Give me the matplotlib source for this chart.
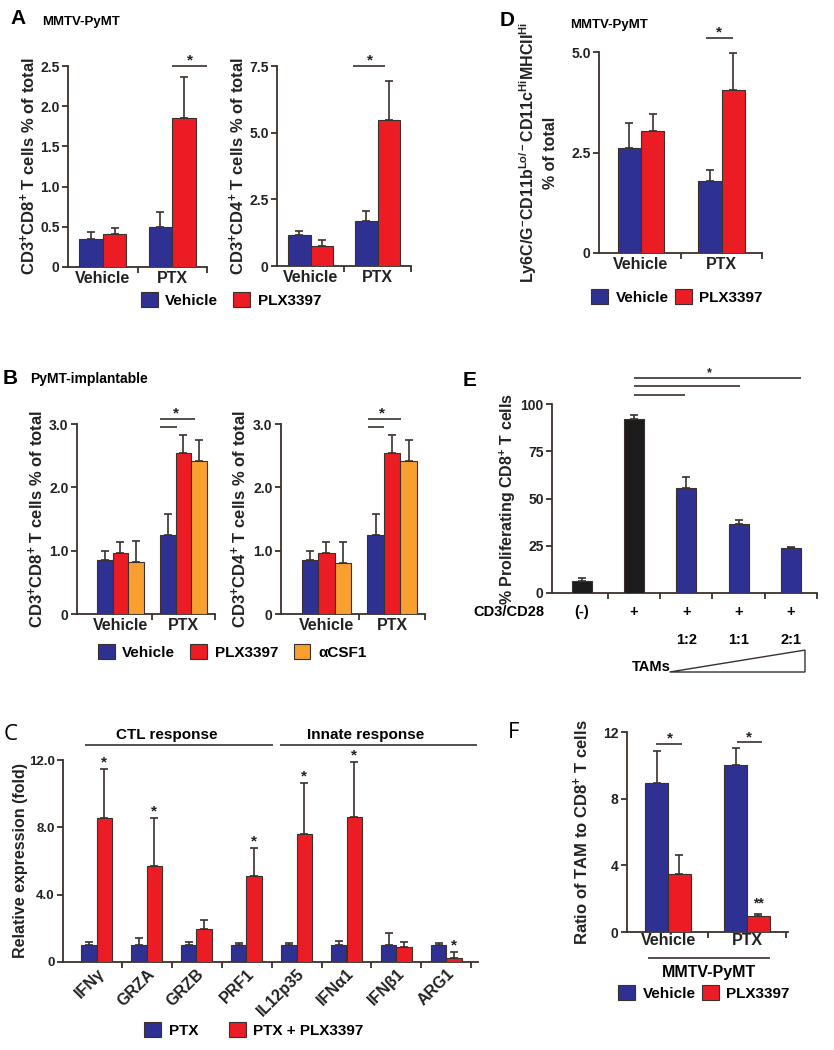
import numpy as np
import matplotlib
matplotlib.use('Agg')
import matplotlib.pyplot as plt
from matplotlib.patches import Patch, Polygon

plt.rcParams['font.family'] = ['Liberation Sans', 'DejaVu Sans']
plt.rcParams['font.weight'] = 'bold'
plt.rcParams['axes.labelweight'] = 'bold'
plt.rcParams['mathtext.fontset'] = 'custom'
plt.rcParams['mathtext.rm'] = 'Liberation Sans:bold'
plt.rcParams['mathtext.it'] = 'Liberation Sans:bold'
plt.rcParams['mathtext.bf'] = 'Liberation Sans:bold'
plt.rcParams['mathtext.default'] = 'rm'

W, H = 834, 1050
BLUE = '#2e3192'
RED = '#ec1c24'
ORANGE = '#f7a030'
BLACK = '#1c1c1c'
EDGE = '#3a302c'

# ---- data ----
groups = ['Vehicle', 'PTX']

# A: MMTV-PyMT
a_cd8_veh = [0.35, 0.50]
a_cd8_veh_err = [0.09, 0.19]
a_cd8_plx = [0.41, 1.85]
a_cd8_plx_err = [0.07, 0.51]
a_cd4_veh = [1.15, 1.68]
a_cd4_veh_err = [0.15, 0.39]
a_cd4_plx = [0.75, 5.49]
a_cd4_plx_err = [0.21, 1.44]

# B: PyMT-implantable
b_cd8_veh = [0.85, 1.25]
b_cd8_veh_err = [0.14, 0.33]
b_cd8_plx = [0.96, 2.55]
b_cd8_plx_err = [0.18, 0.28]
b_cd8_csf = [0.82, 2.42]
b_cd8_csf_err = [0.33, 0.32]
b_cd4_veh = [0.85, 1.25]
b_cd4_veh_err = [0.14, 0.33]
b_cd4_plx = [0.96, 2.55]
b_cd4_plx_err = [0.18, 0.28]
b_cd4_csf = [0.80, 2.41]
b_cd4_csf_err = [0.34, 0.33]

# C: relative expression
c_genes = ['IFNγ', 'GRZA', 'GRZB', 'PRF1', 'IL12p35', 'IFNα1', 'IFNβ1', 'ARG1']
c_ptx = [1.0, 1.0, 1.0, 1.0, 1.0, 1.0, 1.0, 1.0]
c_ptx_err = [0.2, 0.4, 0.2, 0.15, 0.12, 0.25, 0.75, 0.15]
c_plx = [8.57, 5.71, 1.94, 5.10, 7.60, 8.63, 0.89, 0.24]
c_plx_err = [2.88, 2.82, 0.58, 1.70, 3.05, 3.24, 0.30, 0.36]
c_stars = [True, True, False, True, True, True, False, True]

# D: Ly6C/G- CD11b lo CD11c hi MHCII hi
d_veh = [2.60, 1.80]
d_veh_err = [0.63, 0.27]
d_plx = [3.03, 4.05]
d_plx_err = [0.43, 0.92]

# E: proliferation
e_values = [6.5, 92.1, 55.8, 36.6, 23.8]
e_err = [1.4, 2.1, 5.8, 2.1, 0.8]
e_colors = [BLACK, BLACK, BLUE, BLUE, BLUE]
e_cd3 = ['(-)', '+', '+', '+', '+']
e_ratio = ['', '', '1:2', '1:1', '2:1']

# F: ratio TAM to CD8
f_veh = [8.96, 10.04]
f_veh_err = [1.88, 1.00]
f_plx = [3.50, 0.96]
f_plx_err = [1.14, 0.14]

fig = plt.figure(figsize=(W / 100, H / 100), dpi=100)


def add_ax(left, top, right, bottom, xlim, ylim, yticks, ylabels, ysize=10):
    ax = fig.add_axes([left / W, 1 - bottom / H, (right - left) / W, (bottom - top) / H])
    ax.set_xlim(xlim)
    ax.set_ylim(ylim)
    ax.set_yticks(yticks)
    ax.set_yticklabels(ylabels, fontweight='bold', fontsize=ysize)
    for s in ['top', 'right']:
        ax.spines[s].set_visible(False)
    for s in ['left', 'bottom']:
        ax.spines[s].set_color(EDGE)
        ax.spines[s].set_linewidth(1.3)
    ax.tick_params(axis='both', which='both', colors=EDGE, labelcolor='#222222', width=1.3)
    ax.tick_params(axis='y', length=4, pad=2)
    ax.tick_params(axis='x', which='major', length=0, pad=3)
    ax.tick_params(axis='x', which='minor', length=4)
    ax.patch.set_alpha(0)
    return ax


def xcats(ax, labels):
    n = len(labels)
    ax.set_xticks(np.arange(n))
    ax.set_xticklabels(labels, fontweight='bold', fontsize=11.5)
    ax.set_xticks(np.arange(n) + 0.5, minor=True)


def grouped(ax, series, width):
    n = len(series)
    for k, (vals, errs, color) in enumerate(series):
        x = np.arange(len(vals)) + (k - (n - 1) / 2) * width
        ax.bar(x, vals, width, color=color, edgecolor=EDGE, linewidth=0.8, zorder=3)
        ax.errorbar(x, vals, yerr=[np.zeros(len(vals)), errs], fmt='none', ecolor=EDGE,
                    elinewidth=1.2, capsize=3, capthick=1.2, zorder=2)


def hline(ax, x0, x1, y):
    ax.plot([x0, x1], [y, y], color=EDGE, lw=1.2, clip_on=False, solid_capstyle='butt')


def star(ax, x, y, s='*', size=11):
    ax.text(x, y, s, ha='center', va='baseline', fontsize=size, color='#222222', clip_on=False)


def ylab(ax, text, right_px, size=12, **kw):
    pos = ax.get_position()
    ax.set_ylabel(text, fontsize=size, color='#222222', fontweight='bold', **kw)
    ax.yaxis.set_label_coords((right_px / W - pos.x0) / pos.width, 0.5)


def ftext(x, y, s, **kw):
    fig.text(x / W, 1 - y / H, s, **kw)


def legend(items, cx, cy, spacing=1.0):
    handles = [Patch(facecolor=c, edgecolor=EDGE, linewidth=0.8) for c, _ in items]
    fig.legend(handles, [l for _, l in items], loc='center', bbox_to_anchor=(cx / W, 1 - cy / H),
               ncol=len(items), frameon=False, fontsize=11, handlelength=1.1, handleheight=1.1,
               handletextpad=0.5, columnspacing=spacing, borderpad=0)


# ---- A ----
ftext(10, 18, 'A', fontsize=15, va='center', ha='left')
ftext(42, 22, 'MMTV-PyMT', fontsize=9.5, va='center', ha='left')
axA1 = add_ax(68, 66, 207, 267, (-0.5, 1.5), (0, 2.5), [0, 0.5, 1, 1.5, 2, 2.5],
              ['0', '0.5', '1.0', '1.5', '2.0', '2.5'])
grouped(axA1, [(a_cd8_veh, a_cd8_veh_err, BLUE), (a_cd8_plx, a_cd8_plx_err, RED)], 0.34)
xcats(axA1, groups)
hline(axA1, 1.0, 1.5, 2.5)
star(axA1, 1.25, 2.52)
ylab(axA1, r'CD3$^{+}$CD8$^{+}$ T cells % of total', 38)

axA2 = add_ax(277, 66, 411, 266, (-0.5, 1.5), (0, 7.5), [0, 2.5, 5, 7.5], ['0', '2.5', '5.0', '7.5'])
grouped(axA2, [(a_cd4_veh, a_cd4_veh_err, BLUE), (a_cd4_plx, a_cd4_plx_err, RED)], 0.34)
xcats(axA2, groups)
hline(axA2, 0.63, 1.11, 7.5)
star(axA2, 0.89, 7.56)
ylab(axA2, r'CD3$^{+}$CD4$^{+}$ T cells % of total', 247)

legend([(BLUE, 'Vehicle'), (RED, 'PLX3397')], 231, 300)

# ---- B ----
ftext(3, 379, 'B', fontsize=15, va='center', ha='left')
ftext(30, 379, 'PyMT-implantable', fontsize=10, va='center', ha='left')
axB1 = add_ax(77, 424, 215, 614, (-0.69, 1.37), (0, 3), [0, 1, 2, 3], ['0', '1.0', '2.0', '3.0'])
grouped(axB1, [(b_cd8_veh, b_cd8_veh_err, BLUE), (b_cd8_plx, b_cd8_plx_err, RED),
               (b_cd8_csf, b_cd8_csf_err, ORANGE)], 0.25)
xcats(axB1, groups)
hline(axB1, 0.63, 1.18, 3.08)
hline(axB1, 0.63, 0.90, 2.95)
star(axB1, 0.88, 3.1)
ylab(axB1, r'CD3$^{+}$CD8$^{+}$ T cells % of total', 46)

axB2 = add_ax(281, 424, 425, 614, (-0.69, 1.43), (0, 3), [0, 1, 2, 3], ['0', '1.0', '2.0', '3.0'])
grouped(axB2, [(b_cd4_veh, b_cd4_veh_err, BLUE), (b_cd4_plx, b_cd4_plx_err, RED),
               (b_cd4_csf, b_cd4_csf_err, ORANGE)], 0.25)
xcats(axB2, groups)
hline(axB2, 0.63, 1.13, 3.08)
hline(axB2, 0.63, 0.87, 2.95)
star(axB2, 0.85, 3.1)
ylab(axB2, r'CD3$^{+}$CD4$^{+}$ T cells % of total', 249)

legend([(BLUE, 'Vehicle'), (RED, 'PLX3397'), (ORANGE, 'αCSF1')], 232, 652, spacing=1.0)

# ---- C ----
ftext(4, 735, 'C', fontsize=16, va='center', ha='left', fontweight='normal', family='Open Sans')
axC = add_ax(63, 760, 478, 962, (-0.67, 7.63), (0, 12), [0, 4, 8, 12], ['0', '4.0', '8.0', '12.0'],
             ysize=9.5)
grouped(axC, [(c_ptx, c_ptx_err, BLUE), (c_plx, c_plx_err, RED)], 0.31)
axC.set_xticks(np.arange(len(c_genes)))
axC.set_xticklabels(c_genes, rotation=45, ha='right', rotation_mode='anchor', fontsize=11.5,
                    fontweight='bold')
axC.set_xticks(np.arange(len(c_genes)) + 0.5, minor=True)
for i, s in enumerate(c_stars):
    if s:
        star(axC, i + 0.155, c_plx[i] + c_plx_err[i] + 0.15)
hline(axC, -0.24, 3.52, 12.9)
hline(axC, 3.66, 7.62, 12.9)
axC.text(1.4, 13.25, 'CTL response', ha='center', va='baseline', fontsize=11, clip_on=False)
axC.text(5.38, 13.25, 'Innate response', ha='center', va='baseline', fontsize=11, clip_on=False)
ylab(axC, 'Relative expression (fold)', 28, size=11.5)

legend([(BLUE, 'PTX'), (RED, 'PTX + PLX3397')], 254, 1030, spacing=2.0)

# ---- D ----
ftext(500, 21, 'D', fontsize=15, va='center', ha='left')
ftext(570, 25, 'MMTV-PyMT', fontsize=9.5, va='center', ha='left')
axD = add_ax(599, 52, 762, 253, (-0.52, 1.49), (0, 5), [0, 2.5, 5], ['0', '2.5', '5.0'])
grouped(axD, [(d_veh, d_veh_err, BLUE), (d_plx, d_plx_err, RED)], 0.29)
xcats(axD, groups)
hline(axD, 0.80, 1.14, 5.35)
star(axD, 0.97, 5.38)
ylab(axD, 'Ly6C/G$^{-}$CD11b$^{Lo/-}$CD11c$^{Hi}$MHCII$^{Hi}$\n% of total', 558, size=11.5,
     linespacing=1.3)

legend([(BLUE, 'Vehicle'), (RED, 'PLX3397')], 677, 297, spacing=0.4)

# ---- E ----
ftext(463, 381, 'E', fontsize=15, va='center', ha='left')
axE = add_ax(552, 404, 817, 593, (-0.57, 4.5), (0, 100), [0, 25, 50, 75, 100],
             ['0', '25', '50', '75', '100'])
xE = np.arange(len(e_values))
axE.bar(xE, e_values, 0.38, color=e_colors, edgecolor=EDGE, linewidth=0.8, zorder=3)
axE.errorbar(xE, e_values, yerr=[np.zeros(len(e_values)), e_err], fmt='none', ecolor=EDGE,
             elinewidth=1.2, capsize=3, capthick=1.2, zorder=2)
axE.set_xticks([])
axE.set_xticks(xE + 0.5, minor=True)
hline(axE, 1.0, 4.2, 114)
hline(axE, 1.0, 3.02, 109.5)
hline(axE, 1.0, 1.97, 105)
star(axE, 2.45, 114.5, size=9)
axE.text(-0.71, -10, 'CD3/CD28', ha='right', va='center', fontsize=10.5, clip_on=False)
for i in xE:
    axE.text(i, -10, e_cd3[i], ha='center', va='center', fontsize=10.5, clip_on=False)
    axE.text(i, -25, e_ratio[i], ha='center', va='center', fontsize=10.5, clip_on=False)
axE.text(1.7, -41.5, 'TAMs', ha='right', va='baseline', fontsize=10.5, clip_on=False)
axE.add_patch(Polygon([[1.68, -41.8], [4.27, -30.2], [4.27, -41.8]], closed=True, fill=False,
                      edgecolor=EDGE, lw=1.0, clip_on=False))
ylab(axE, r'% Proliferating CD8$^{+}$ T cells', 518, size=11.5)

# ---- F ----
ftext(508, 732, 'F', fontsize=16, va='center', ha='left', fontweight='normal', family='Open Sans')
axF = add_ax(627, 732, 788, 932, (-0.52, 1.52), (0, 12), [0, 4, 8, 12], ['0', '4', '8', '12'])
grouped(axF, [(f_veh, f_veh_err, BLUE), (f_plx, f_plx_err, RED)], 0.29)
xcats(axF, groups)
axF.tick_params(axis='x', which='major', pad=1)
hline(axF, -0.15, 0.18, 11.3)
star(axF, 0.02, 11.35)
hline(axF, 0.87, 1.19, 11.4)
star(axF, 1.03, 11.45)
star(axF, 1.145, f_plx[1] + f_plx_err[1] + 0.35, s='**', size=10)
hline(axF, -0.25, 1.29, -1.56)
axF.text(0.52, -2.4, 'MMTV-PyMT', ha='center', va='center', fontsize=11.5, clip_on=False)
ylab(axF, r'Ratio of TAM to CD8$^{+}$ T cells', 591)

legend([(BLUE, 'Vehicle'), (RED, 'PLX3397')], 704, 993, spacing=0.4)

fig.savefig('out.png', dpi=100)
